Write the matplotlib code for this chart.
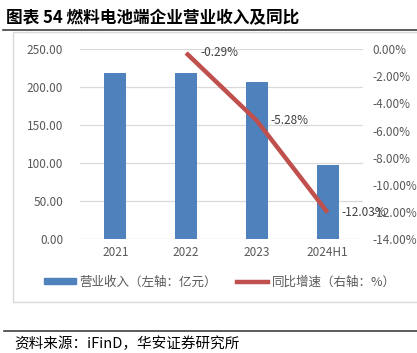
import matplotlib
matplotlib.use("Agg")
import matplotlib.pyplot as plt
from matplotlib.patches import Rectangle
from matplotlib.lines import Line2D
import numpy as np

plt.rcParams['font.family'] = ['Noto Sans CJK SC', 'DejaVu Sans']

categories = ["2021", "2022", "2023", "2024H1"]
revenue = [219.0, 218.1, 206.6, 97.6]
growth = [np.nan, -0.29, -5.28, -12.03]
growth_labels = ["", "-0.29%", "-5.28%", "-12.03%"]
left_ticks = [0, 50, 100, 150, 200, 250]
right_ticks = [0, -2, -4, -6, -8, -10, -12, -14]

W, H = 417, 353
fig = plt.figure(figsize=(W / 100, H / 100), dpi=100)

def fx(px):
    return px / W

def fy(py):
    return 1 - py / H

# title
fig.text(fx(6), fy(18), "图表 54 燃料电池端企业营业收入及同比", fontsize=12,
         fontweight='bold', va='center', ha='left', color='black')
fig.add_artist(Line2D([fx(3), 1], [fy(30), fy(30)], color='#404040', lw=1.2))
# chart frame
fig.add_artist(Rectangle((fx(13), fy(302)), 1 - fx(13) + 0.01, fy(32) - fy(302),
                         fill=False, edgecolor='#D9D9D9', lw=1))
# source
fig.add_artist(Line2D([fx(4), 1], [fy(331), fy(331)], color='#404040', lw=1.2))
fig.text(fx(14), fy(344), "资料来源：iFinD，华安证券研究所", fontsize=10.5,
         va='center', ha='left', color='black')

ax = fig.add_axes([fx(80), fy(239.3), fx(363) - fx(80), fy(49) - fy(239.3)])
x = np.arange(len(categories))
ax.bar(x, revenue, width=0.31, color='#4F81BD', zorder=3)
ax.set_xlim(-0.5, len(categories) - 0.5)
ax.set_ylim(0, 250)
ax.set_yticks(left_ticks)
ax.set_yticklabels([f"{v:.2f}" for v in left_ticks])
ax.set_xticks(x)
ax.set_xticklabels(categories)
ax.grid(axis='y', color='#D9D9D9', lw=0.9, zorder=0)
for s in ax.spines.values():
    s.set_visible(False)
ax.tick_params(axis='both', length=0, colors='#595959', labelsize=8.5)
ax.tick_params(axis='y', pad=12)
ax.tick_params(axis='x', pad=5)

ax2 = ax.twinx()
ax2.plot(x, growth, color='#C0504D', lw=3.2, solid_capstyle='butt', zorder=4)
ax2.set_ylim(-14, 0)
ax2.set_yticks(right_ticks)
ax2.set_yticklabels([f"{v:.2f}%" for v in right_ticks])
for s in ax2.spines.values():
    s.set_visible(False)
ax2.tick_params(axis='y', length=0, colors='#595959', labelsize=8.5, pad=7)
for xi, g, lab in zip(x, growth, growth_labels):
    if lab:
        ax2.annotate(lab, (xi, g), xytext=(10, 0), textcoords='offset points',
                     va='center', ha='left', fontsize=8.5, color='#404040')

# legend
handles = [Rectangle((0, 0), 1, 1, color='#4F81BD'),
           Line2D([0], [0], color='#C0504D', lw=3.2)]
fig.legend(handles, ["营业收入（左轴：亿元）", "同比增速（右轴：%）"],
           loc='center', bbox_to_anchor=(fx(220), fy(282)), ncol=2, frameon=False,
           fontsize=9, labelcolor='#595959', handlelength=2.5, handleheight=0.35,
           columnspacing=1.6, handletextpad=0.3)

fig.savefig("out.png", dpi=100)
